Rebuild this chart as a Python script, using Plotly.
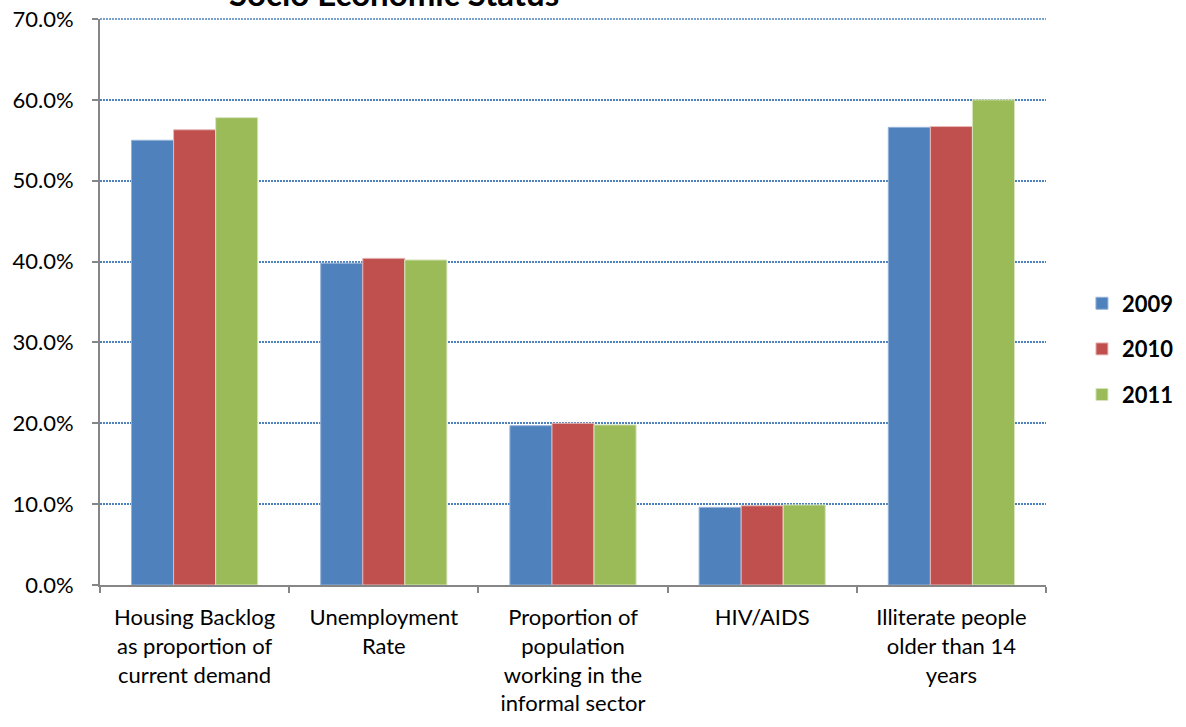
import plotly.graph_objects as go

# Indicator categories (multi-line axis labels)
categories = [
    "Housing Backlog<br>as proportion of<br>current demand",
    "Unemployment<br>Rate",
    "Proportion of<br>population<br>working in the<br>informal sector",
    "HIV/AIDS",
    "Illiterate people<br>older than 14<br>years",
]

years = ["2009", "2010", "2011"]

# Share of population / demand, per year
values_2009 = [0.550, 0.398, 0.197, 0.096, 0.566]
values_2010 = [0.563, 0.404, 0.200, 0.098, 0.567]
values_2011 = [0.578, 0.402, 0.198, 0.099, 0.600]

colors = ["#4F81BD", "#C0504D", "#9BBB59"]
edge_colors = ["#95B3D7", "#E6B9B8", "#D7E4BD"]

FONT = "Lato"
GRID_COLOR = "#4F81BD"
GRID_DASH = "2px,1px"

fig = go.Figure()
for name, vals, col, edge in zip(years, [values_2009, values_2010, values_2011], colors, edge_colors):
    fig.add_trace(go.Bar(
        x=categories,
        y=vals,
        name=name,
        legendgroup=name,
        marker=dict(color=col, line=dict(color=edge, width=1)),
    ))

fig.update_layout(
    width=1186,
    height=727,
    margin=dict(l=100, r=140, t=19, b=142, autoexpand=False),
    paper_bgcolor="white",
    plot_bgcolor="white",
    barmode="group",
    bargap=0.333,
    bargroupgap=0,
    font=dict(family=FONT, size=22, color="black"),
    legend=dict(
        x=1.038,
        y=0.417,
        xanchor="left",
        yanchor="middle",
        font=dict(family=FONT, size=22, color="black", weight="bold"),
        tracegroupgap=14,
        itemwidth=30,
        bgcolor="rgba(0,0,0,0)",
    ),
    showlegend=True,
)

fig.update_yaxes(
    range=[0, 0.7],
    dtick=0.1,
    tickformat=".1%",
    showgrid=True,
    gridcolor=GRID_COLOR,
    griddash=GRID_DASH,
    gridwidth=1.5,
    zeroline=False,
    showline=True,
    linecolor="#868686",
    linewidth=2,
    ticks="outside",
    ticklen=6,
    tickwidth=2,
    tickcolor="#868686",
    ticklabelstandoff=14,
    automargin=False,
    tickfont=dict(family=FONT, size=22, color="black"),
)

fig.update_xaxes(
    showgrid=False,
    showline=True,
    linecolor="#868686",
    linewidth=2,
    ticks="outside",
    tickson="boundaries",
    ticklen=6,
    tickwidth=2,
    tickcolor="#868686",
    ticklabelstandoff=12,
    automargin=False,
    tickfont=dict(family=FONT, size=22, color="black"),
)

# Top gridline sits on the edge of the plot area, so draw it on the paper layer
fig.add_shape(
    type="line",
    xref="paper", yref="paper",
    x0=0, x1=1, y0=1, y1=1,
    line=dict(color=GRID_COLOR, width=1.5, dash=GRID_DASH),
    layer="below",
)

fig.add_annotation(
    text="<b>Socio Economic Status</b>",
    xref="paper",
    yref="paper",
    x=0.311,
    y=1,
    xanchor="center",
    yanchor="bottom",
    yshift=4,
    showarrow=False,
    font=dict(family=FONT, size=33, color="black"),
)

fig.write_html("out.html")
